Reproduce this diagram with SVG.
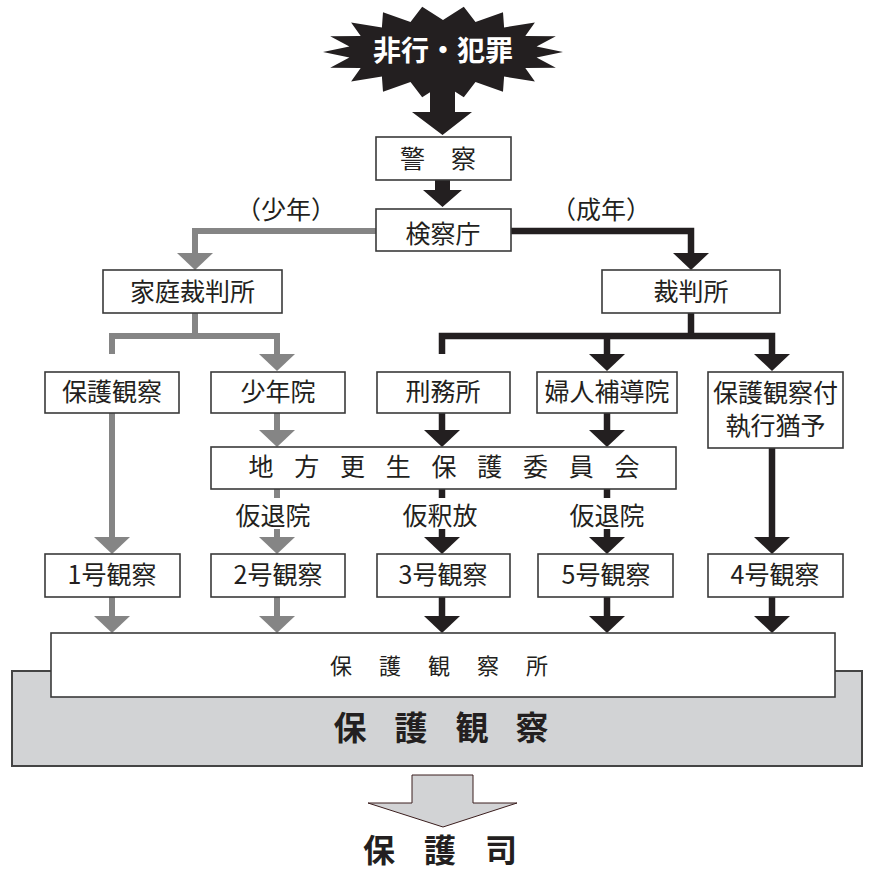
<svg xmlns="http://www.w3.org/2000/svg" width="874" height="872" viewBox="0 0 874 872">
<style>
.box{fill:#fff;stroke:#3a3a3a;stroke-width:1.6}
.t{font-family:"Noto Sans CJK JP","Noto Sans",sans-serif;font-size:25px;fill:#231f20;text-anchor:middle}
.b{font-weight:bold}
.g{fill:none;stroke:#858585;stroke-width:6;stroke-linejoin:miter}
.k{fill:none;stroke:#231f20;stroke-width:6.5;stroke-linejoin:miter}
.ga{marker-end:url(#hg)}
.ka{marker-end:url(#hk)}
</style>
<defs>
<marker id="hg" markerUnits="userSpaceOnUse" markerWidth="20" markerHeight="40" refX="0" refY="18" orient="auto" viewBox="0 0 20 36">
<path d="M0,0 L17,18 L0,36 z" fill="#858585"/>
</marker>
<marker id="hk" markerUnits="userSpaceOnUse" markerWidth="20" markerHeight="40" refX="0" refY="18" orient="auto" viewBox="0 0 20 36">
<path d="M0,0 L17,18 L0,36 z" fill="#231f20"/>
</marker>
</defs>
<rect width="874" height="872" fill="#fff"/>

<g id="start">
<polygon fill="#231f20" points="563,52 536.6,57.6 555.8,67.7 525.3,68 534.9,81.6 504.1,76.5 503,91.8 475.5,82.1 463.8,97.3 443,84 422.2,97.3 410.5,82.1 383,91.8 381.9,76.5 351.1,81.6 360.7,68 330.2,67.7 349.4,57.6 323,52 349.4,46.4 330.2,36.3 360.7,36 351.1,22.4 381.9,27.5 383,12.2 410.5,21.9 422.2,6.7 443,20 463.8,6.7 475.5,21.9 503,12.2 504.1,27.5 534.9,22.4 525.3,36 555.8,36.3 536.6,46.4"/>
<text class="t b" x="443" y="61" style="font-size:28px;fill:#fff">非行・犯罪</text>
</g>

<g id="connectors">
<polygon fill="#231f20" points="430,80 455,80 455,112 472,112 442.5,135 412,112 430,112"/>
<polygon fill="#231f20" points="435,180 450,180 450,190 462,190 442.5,207 423,190 435,190"/>
<path class="g ga" d="M376,231 H195 V253"/>
<path class="k ka" d="M511,231 H691 V253"/>
<path class="g" d="M195,313 V336"/>
<path class="g ga" d="M112,354 V336 H277 V354"/>
<path class="k" d="M691,313 V336"/>
<path class="k ka" d="M442,354 V336 H772 V354"/>
<path class="k ka" d="M607,336 V354"/>
<path class="g ga" d="M277,413 V430"/>
<path class="k ka" d="M442,413 V430"/>
<path class="k ka" d="M607,413 V430"/>
<path class="g ga" d="M112,413 V537"/>
<path class="k ka" d="M772,448 V537"/>
<path class="g" d="M277,489 V498"/>
<path class="k" d="M442,489 V498"/>
<path class="k" d="M607,489 V498"/>
<path class="g ga" d="M277,529 V537"/>
<path class="k ka" d="M442,529 V537"/>
<path class="k ka" d="M607,529 V537"/>
<path class="g ga" d="M112,597 V616"/>
<path class="g ga" d="M277,597 V616"/>
<path class="k ka" d="M442,597 V616"/>
<path class="k ka" d="M607,597 V616"/>
<path class="k ka" d="M772,597 V616"/>
<polygon fill="#d2d3d5" stroke="#3b1e1e" stroke-width="1" points="412,775 473,775 473,803 517,803 443,827 368,803 412,803"/>
</g>

<g id="police"><rect class="box" x="376" y="137" width="135" height="43"/><text class="t" x="412.5 463.5" y="168">警察</text></g>
<g id="prosecutor"><rect class="box" x="376" y="209" width="135" height="42"/><text class="t" x="443" y="243">検察庁</text></g>
<text class="t" x="286" y="219">（少年）</text>
<text class="t" x="601" y="219">（成年）</text>
<g id="family-court"><rect class="box" x="103" y="270" width="179" height="43"/><text class="t" x="192.5" y="301">家庭裁判所</text></g>
<g id="court"><rect class="box" x="602" y="270" width="178" height="43"/><text class="t" x="691" y="301">裁判所</text></g>

<g id="probation"><rect class="box" x="45" y="372" width="134" height="41"/><text class="t" x="112" y="401">保護観察</text></g>
<g id="juvenile"><rect class="box" x="211" y="372" width="134" height="41"/><text class="t" x="278" y="401">少年院</text></g>
<g id="prison"><rect class="box" x="377" y="372" width="133" height="41"/><text class="t" x="443" y="401">刑務所</text></g>
<g id="women"><rect class="box" x="537" y="372" width="140" height="41"/><text class="t" x="607" y="401">婦人補導院</text></g>
<g id="suspended"><rect class="box" x="708" y="372" width="135" height="76"/><text class="t" x="775.5" y="402">保護観察付</text><text class="t" x="775.5" y="435">執行猶予</text></g>

<g id="parole-board"><rect class="box" x="211" y="447" width="465" height="42"/><text class="t" x="261 306.75 352.5 398.25 444 489.75 535.5 581.25 627" y="476">地方更生保護委員会</text></g>
<text class="t" x="273" y="525">仮退院</text>
<text class="t" x="440" y="525">仮釈放</text>
<text class="t" x="607" y="525">仮退院</text>

<g id="no1"><rect class="box" x="45" y="554" width="135" height="43"/><text class="t" x="112" y="584">1号観察</text></g>
<g id="no2"><rect class="box" x="211" y="554" width="134" height="43"/><text class="t" x="278" y="584">2号観察</text></g>
<g id="no3"><rect class="box" x="377" y="554" width="133" height="43"/><text class="t" x="443" y="584">3号観察</text></g>
<g id="no5"><rect class="box" x="538" y="554" width="135" height="43"/><text class="t" x="606" y="584">5号観察</text></g>
<g id="no4"><rect class="box" x="708" y="554" width="135" height="43"/><text class="t" x="775" y="584">4号観察</text></g>

<g id="probation-total"><rect x="12" y="671" width="850" height="95" fill="#d2d3d5" stroke="#444" stroke-width="2"/><text class="t b" x="350 411 472 532" y="740" style="font-size:33px">保護観察</text></g>
<g id="probation-office"><rect class="box" x="51" y="633" width="784" height="64"/><text class="t" x="341 390 439 488 537" y="674" style="font-size:22px">保護観察所</text></g>
<g id="volunteer"><text class="t b" x="379 440 501" y="862" style="font-size:32px">保護司</text></g>
</svg>
